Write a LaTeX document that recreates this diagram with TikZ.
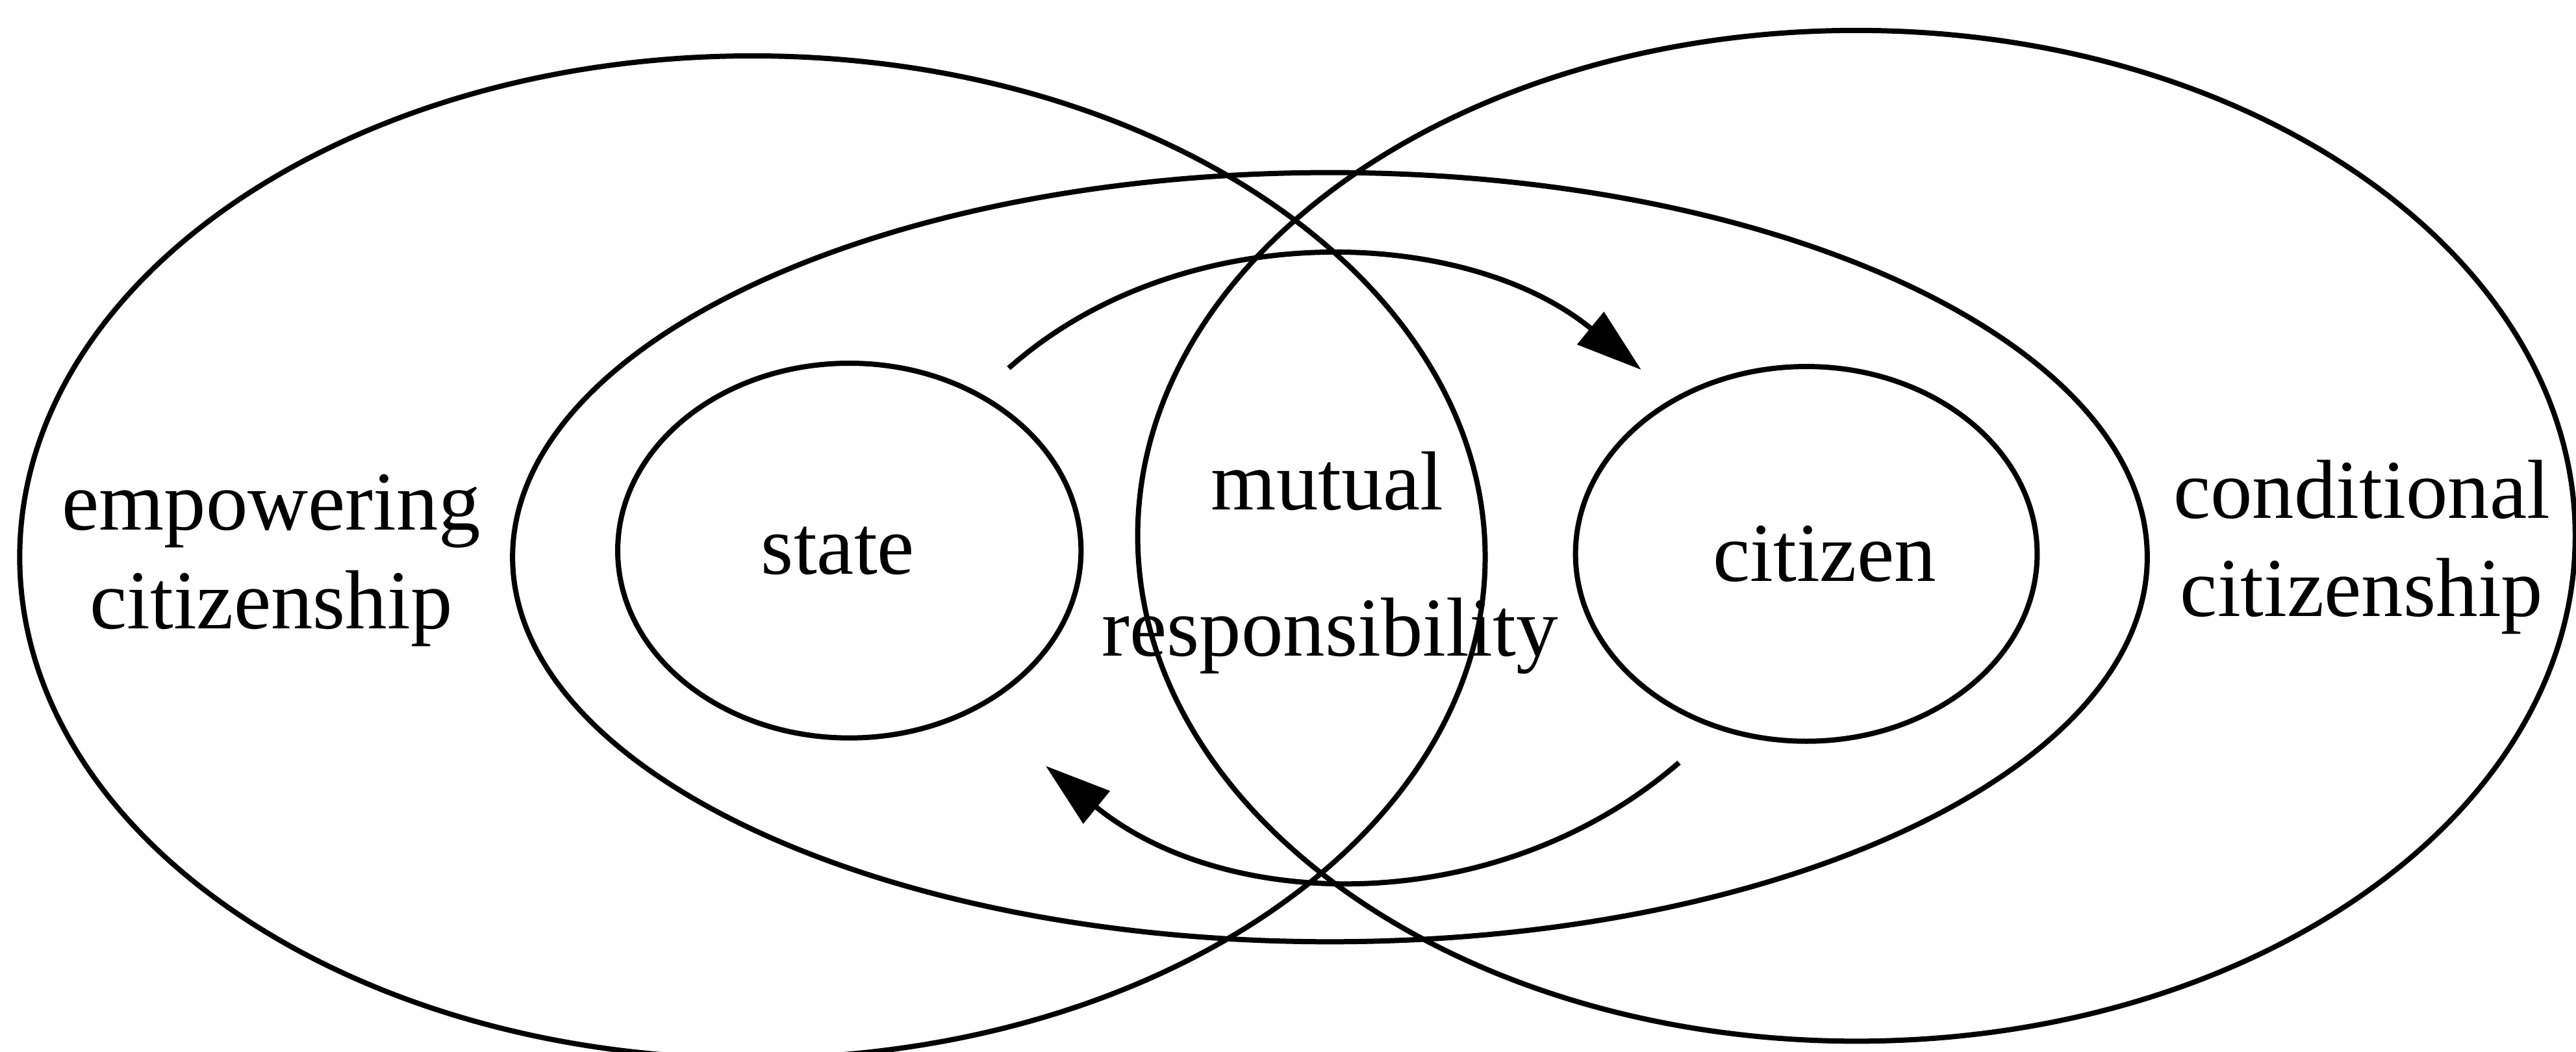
\documentclass[tikz,border=0pt]{standalone}
\usepackage{fontspec}
\setmainfont{Liberation Serif}
\usetikzlibrary{shapes.geometric, arrows.meta}

\begin{document}
\begin{tikzpicture}[font=\fontsize{14.5}{17}\selectfont, line width=0.9pt,
		ring/.style={ellipse, draw, inner sep=0pt},
		flow/.style={-{Triangle[length=4mm, width=2.5mm]}}]
	\useasboundingbox (0,0) rectangle (15.68,6.40);
	\node[ring, minimum width=8.92cm, minimum height=6.1cm] (bigL) at (4.58,3.01) {};
	\node[ring, minimum width=8.75cm, minimum height=6.15cm] (bigR) at (11.30,3.14) {};
	\node[ring, minimum width=9.95cm, minimum height=4.68cm] (mid) at (8.095,3.01) {};
	\node[ring, minimum width=2.82cm, minimum height=2.28cm] (state) at (5.17,3.05) {};
	\node[ring, minimum width=2.81cm, minimum height=2.28cm] (citizen) at (10.995,3.03) {};
	\node (statelbl) at ([xshift=-0.07cm]state.center) {state};
	\node (citizenlbl) at ([xshift=0.11cm]citizen.center) {citizen};
	\node[align=center] (empow) at (1.65,2.99) {empowering\\citizenship};
	\node[align=center] (cond) at (14.375,3.07) {conditional\\citizenship};
	\node[anchor=base] (mutual) at (8.08,3.30) {mutual};
	\node[anchor=base] (resp) at (8.095,2.41) {responsibility};
	\coordinate (s1) at (6.14,4.16);
	\coordinate (c1) at (9.99,4.15);
	\coordinate (c2) at (10.22,1.76);
	\coordinate (s2) at (6.365,1.74);
	\draw[flow] (s1) .. controls (7.2,5.1) and (8.93,5.02) .. (c1);
	\draw[flow] (c2) .. controls (9.12,0.81) and (7.47,0.84) .. (s2);
\end{tikzpicture}
\end{document}
